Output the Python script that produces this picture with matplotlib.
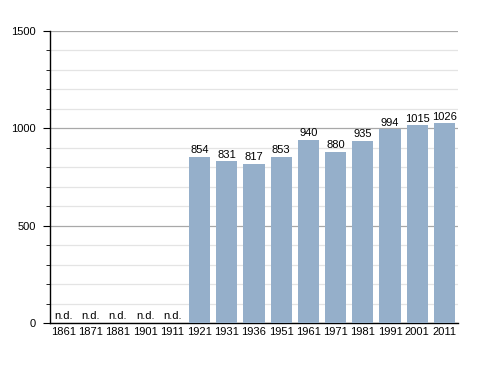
import matplotlib.pyplot as plt
import numpy as np
from matplotlib.ticker import MultipleLocator

plt.rcParams['font.family'] = ['Liberation Sans', 'DejaVu Sans']

years = ["1861", "1871", "1881", "1901", "1911", "1921", "1931", "1936",
         "1951", "1961", "1971", "1981", "1991", "2001", "2011"]
population = [None, None, None, None, None, 854, 831, 817,
              853, 940, 880, 935, 994, 1015, 1026]

fig = plt.figure(figsize=(4.88, 3.73), dpi=100)
ax = fig.add_axes([0.1025, 0.134, 0.836, 0.783])

x = np.arange(len(years))
heights = [0 if v is None else v for v in population]
ax.bar(x, heights, width=0.78, color="#95afca", zorder=3)

for i, v in enumerate(population):
    if v is None:
        ax.text(i, 8, "n.d.", ha="center", va="bottom", fontsize=8)
    else:
        ax.text(i, v + 8, str(v), ha="center", va="bottom", fontsize=8)

ax.set_xlim(-0.5, len(years) - 0.5)
ax.set_ylim(0, 1500)
ax.yaxis.set_major_locator(MultipleLocator(500))
ax.yaxis.set_minor_locator(MultipleLocator(100))
ax.grid(axis="y", which="major", color="#a8a8a8", linewidth=0.9, zorder=0)
ax.grid(axis="y", which="minor", color="#e4e4e4", linewidth=0.9, zorder=0)

ax.set_xticks(x)
ax.set_xticklabels(years)
ax.tick_params(axis="x", length=0, labelsize=8, pad=3)
ax.tick_params(axis="y", which="major", length=5, labelsize=8, pad=5)
ax.tick_params(axis="y", which="minor", length=3)

for s in ["top", "right"]:
    ax.spines[s].set_visible(False)
ax.spines["left"].set_linewidth(1)
ax.spines["bottom"].set_linewidth(1)

fig.savefig("out.png", dpi=100)
